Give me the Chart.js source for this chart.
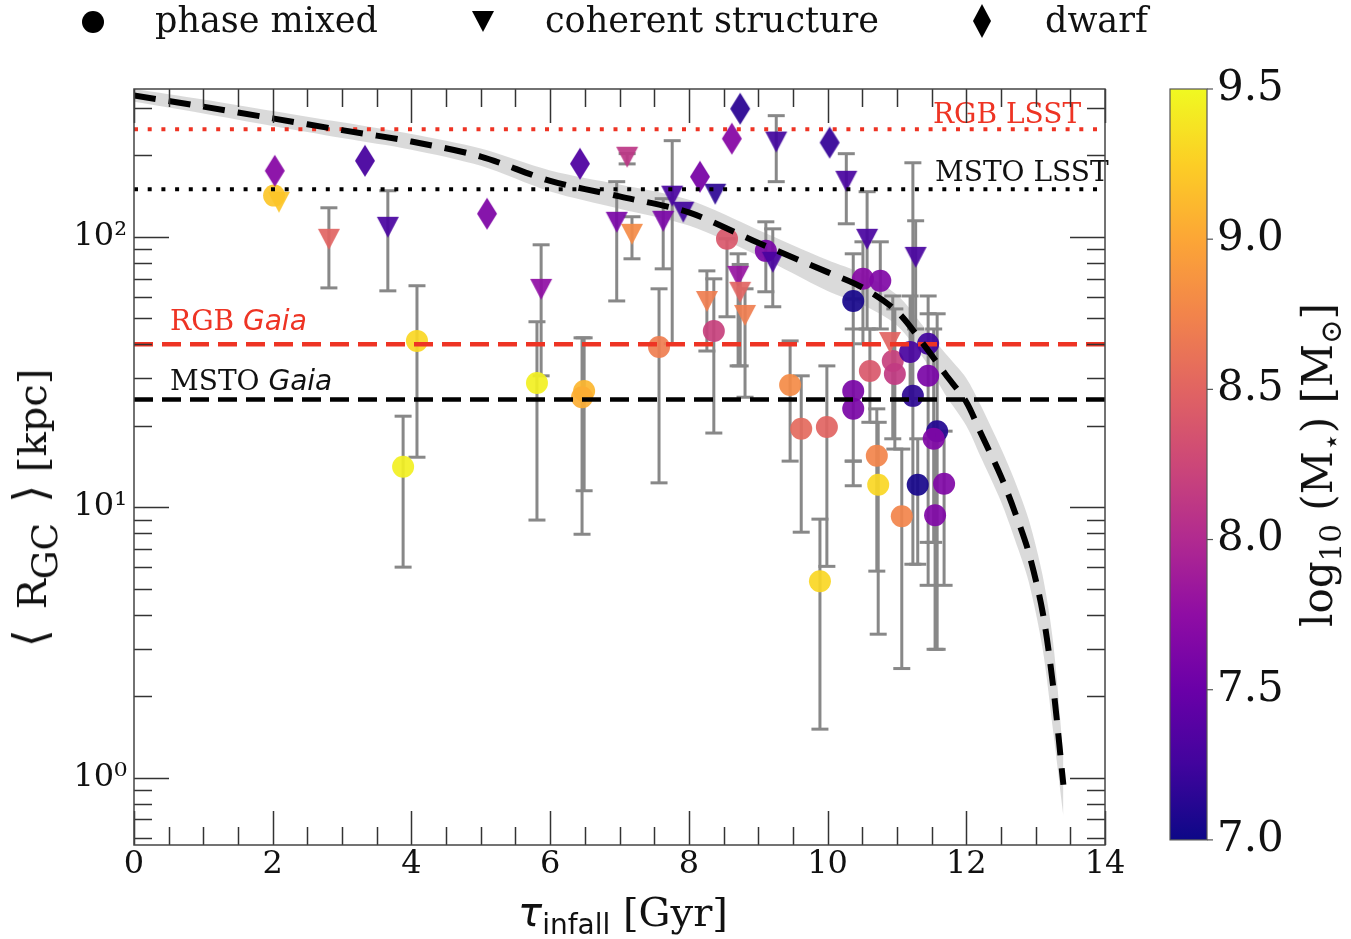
<!DOCTYPE html>
<html lang="en">
<head>
  <meta charset="UTF-8">
  <title>Infall time vs mean galactocentric distance</title>
  <script src="https://cdn.jsdelivr.net/npm/chart.js"></script>
  <style>
    html, body { margin: 0; padding: 0; background: #fff; }
    #wrap { position: relative; width: 1351px; height: 939px; overflow: hidden; }
    #chart { position: absolute; left: 0; top: 0; }
    .t { position: absolute; white-space: nowrap; font-family: "DejaVu Serif", serif; color: #111; line-height: 1; }
    .t sub { font-size: 0.7em; vertical-align: -0.3em; line-height: 0; }
    .sans { font-family: "DejaVu Sans", sans-serif; }
    .mk { position: absolute; }
  </style>
</head>
<body>
<div id="wrap">
  <canvas id="chart" width="1351" height="939"></canvas>

  <!-- legend -->
  <svg class="mk" style="left:82px;top:11px" width="22" height="22"><circle cx="11" cy="11" r="11" fill="#000"/></svg>
  <div class="t" style="left:155px;top:3px;font-size:35px">phase mixed</div>
  <svg class="mk" style="left:472px;top:10px" width="22" height="22"><polygon points="0,1 22,1 11,22" fill="#000"/></svg>
  <div class="t" style="left:545px;top:3px;font-size:35px">coherent structure</div>
  <svg class="mk" style="left:973px;top:4px" width="18" height="34"><polygon points="9,0 18,17 9,34 0,17" fill="#000"/></svg>
  <div class="t" style="left:1045px;top:3px;font-size:35px">dwarf</div>

  <!-- axis titles -->
  <div class="t" style="left:623px;top:892px;font-size:40px;transform:translateX(-50%)"><span class="sans" style="font-style:italic">τ</span><sub class="sans">infall</sub> [Gyr]</div>
  <div class="t" style="left:30px;top:508px;font-size:40px;transform:translate(-50%,-50%) rotate(-90deg)"><span style="font-size:1.15em">⟨</span>&ensp;R<sub style="font-size:0.9em">GC</sub>&ensp;<span style="font-size:1.15em">⟩</span> [kpc]</div>
  <div class="t" style="left:1318px;top:465px;font-size:42px;transform:translate(-50%,-50%) rotate(-90deg)">log<sub>10</sub> (M<sub>⋆</sub>) [M<sub>⊙</sub>]</div>
</div>

<script>
  // phase mixed (circles)
  const pmX    = [2.02, 4.08, 3.88, 5.81, 6.49, 6.46, 7.57, 8.36, 8.55, 9.11, 9.46, 9.62, 9.99, 9.89, 10.37, 10.51, 10.76, 10.61, 10.94, 10.97, 11.19, 11.45, 11.45, 10.37, 10.37, 11.23, 11.58, 11.53, 10.71, 10.73, 11.30, 11.68, 11.07, 11.55];
  const pmY    = [142, 41.2, 14.1, 28.8, 26.9, 25.5, 39.1, 44.8, 98.3, 88.7, 28.3, 19.5, 19.8, 5.32, 57.9, 69.9, 68.7, 31.9, 34.7, 31.1, 37.5, 40.2, 30.6, 26.9, 23.1, 25.8, 19.1, 17.9, 15.5, 12.1, 12.1, 12.2, 9.26, 9.34];
  const pmMass = [9.2, 9.3, 9.45, 9.45, 9.1, 9.05, 8.7, 8.2, 8.4, 7.6, 8.8, 8.55, 8.5, 9.3, 7.05, 7.7, 7.65, 8.4, 8.2, 8.15, 7.3, 7.25, 7.6, 7.6, 7.6, 7.15, 7.1, 7.65, 8.75, 9.3, 7.05, 7.65, 8.75, 7.65];
  const pmLo   = [null, 15.3, 6.0, 8.96, 11.5, 7.94, 12.3, 18.8, 50.6, 62.6, 14.8, 8.08, 6.04, 1.51, 14.8, 40.2, 45.6, 20.6, 17.9, 16.4, 25.2, 7.41, 5.14, 12.0, 14.8, 6.15, 2.98, 7.41, 5.8, 3.39, 6.15, 5.14, 2.53, 2.98];
  const pmHi   = [null, 65.9, 21.7, 48.5, 42.3, 42.3, 64.2, 69.9, 98.3, 113.6, 41.2, 30.6, 33.3, 9.03, 86.5, 95.8, 95.8, 45.6, 60.4, 54.1, 60.4, 60.4, 51.9, 58.9, 45.6, 187.8, 51.9, 45.6, 23.1, 20.6, 17.9, 19.1, 16.4, 17.9];

  // coherent structure (down triangles)
  const csX    = [2.09, 2.81, 3.66, 5.87, 6.96, 7.18, 7.11, 7.63, 7.76, 7.92, 8.38, 9.26, 10.27, 10.57, 11.27, 9.21, 8.71, 8.74, 8.81, 8.26, 10.90];
  const csY    = [134.8, 98.3, 108.9, 64.2, 113.6, 102.6, 197.7, 114.6, 141.9, 123.8, 144.3, 225, 161.1, 98.3, 84.3, 80.8, 71.7, 62.6, 51.4, 57.9, 40.8];
  const csMass = [9.2, 8.5, 7.3, 7.75, 7.6, 8.8, 8.1, 7.6, 7.3, 7.25, 7.15, 7.25, 7.3, 7.3, 7.3, 7.3, 7.8, 8.5, 8.7, 8.7, 8.5];
  const csLo   = [null, 64.7, 63.1, 30.6, 57.9, 82.9, 186, 76.1, 40.2, null, null, 159.9, 111.7, 45.6, 45.6, 55.1, 33.3, 33.3, 25.5, 37.8, null];
  const csHi   = [null, 128, 148, 93.4, 159.9, 118.6, 203, 138.3, 226.7, null, null, 280.5, 202.9, 146.8, 114.6, 107, 86.5, 79, 64.2, 74.8, null];

  // dwarfs (diamonds)
  const dwX    = [2.03, 3.33, 5.09, 6.43, 8.16, 8.62, 8.74, 10.03];
  const dwY    = [175.4, 191, 121.7, 186.3, 166.8, 230.6, 297.6, 223];
  const dwMass = [7.7, 7.3, 7.65, 7.35, 7.6, 7.7, 7.15, 7.2];

  // dashed model curve and its grey band
  const curveX = [0, 1, 2, 3, 4, 5, 6, 7, 8, 9, 10, 10.5, 11, 11.4, 11.7, 12, 12.2, 12.5, 12.7, 12.9, 13.1, 13.25, 13.4];
  const curveY = [333, 303, 274, 248, 225, 198, 161, 141, 123, 95, 74, 65, 53, 39.5, 31, 24.5, 19, 13, 9.6, 6.8, 4.1, 2.2, 0.94];
  const bandHi = [352, 322, 292, 265, 240, 212, 176, 156, 137, 106, 82, 73, 61, 46, 37, 30, 24, 16.5, 12.5, 9, 5.6, 3.2, 1.2];
  const bandLo = [316, 286, 257, 232, 210, 183, 147, 127, 110, 85, 63, 56, 47, 35, 26, 20, 15.5, 10.5, 7.6, 5.3, 3.0, 1.5, 0.72];

  // survey limits
  const limitNames  = ['RGB LSST', 'MSTO LSST', 'RGB Gaia', 'MSTO Gaia'];
  const limitValues = [250, 150, 40, 25];

  const yTickValues  = [1, 10, 100];
  const yTickLabels  = ['10⁰', '10¹', '10²'];
  const cbTickValues = [7.0, 7.5, 8.0, 8.5, 9.0, 9.5];

  const RED = 'rgb(238,52,36)';
  const plasmaStops = ['#0d0887', '#41049d', '#6a00a8', '#8f0da4', '#b12a90', '#cc4778', '#e16462', '#f2844b', '#fca636', '#fcce25', '#f0f921'];

  function hexToRgb(h) {
    return [parseInt(h.slice(1, 3), 16), parseInt(h.slice(3, 5), 16), parseInt(h.slice(5, 7), 16)];
  }
  function plasma(m, alpha) {
    const t = Math.min(1, Math.max(0, (m - 7) / 2.5)) * 10;
    const i = Math.min(9, Math.floor(t));
    const f = t - i;
    const a = hexToRgb(plasmaStops[i]), b = hexToRgb(plasmaStops[i + 1]);
    const c = a.map((v, k) => Math.round(v + (b[k] - v) * f));
    return `rgba(${c[0]},${c[1]},${c[2]},${alpha})`;
  }

  // marker images for triangles / diamonds
  const markerCache = {};
  function markerCanvas(shape, color) {
    const key = shape + color;
    if (markerCache[key]) return markerCache[key];
    const c = document.createElement('canvas');
    if (shape === 'tri') { c.width = 24; c.height = 24; } else { c.width = 22; c.height = 34; }
    const g = c.getContext('2d');
    g.beginPath();
    if (shape === 'tri') {
      g.moveTo(1, 2); g.lineTo(23, 2); g.lineTo(12, 23);
    } else {
      g.moveTo(11, 1); g.lineTo(21, 17); g.lineTo(11, 33); g.lineTo(1, 17);
    }
    g.closePath();
    g.fillStyle = color;
    g.fill();
    markerCache[key] = c;
    return c;
  }

  function pts(xs, ys) {
    return xs.map((x, i) => ({ x: x, y: ys[i] }));
  }
  // error bars: lo -> hi segments separated by gaps
  function errData(xs, los, his) {
    const out = [];
    xs.forEach((x, i) => {
      if (los[i] == null) return;
      out.push({ x: x, y: los[i] }, { x: x, y: his[i] }, { x: x, y: null });
    });
    return out;
  }

  const errStyle = {
    type: 'line', showLine: true, spanGaps: false, borderColor: '#888', borderWidth: 3,
    pointStyle: 'line', pointRadius: 8.5, pointBorderColor: '#888', pointBorderWidth: 3, order: 8
  };
  const hline = (v, color, dash, width) => ({
    type: 'line', data: [{ x: 0, y: v }, { x: 14, y: v }], borderColor: color, borderWidth: width,
    borderDash: dash, pointRadius: 0, order: 2
  });

  const datasets = [
    { type: 'line', data: pts(curveX, bandHi), borderWidth: 0, pointRadius: 0, tension: 0.3,
      backgroundColor: 'rgba(205,205,205,0.75)', fill: '+1', order: 10 },
    { type: 'line', data: pts(curveX, bandLo), borderWidth: 0, pointRadius: 0, tension: 0.3, fill: false, order: 10 },
    Object.assign({ data: errData(pmX, pmLo, pmHi) }, errStyle),
    Object.assign({ data: errData(csX, csLo, csHi) }, errStyle),
    { type: 'scatter', data: pts(pmX, pmY), pointStyle: 'circle', pointRadius: 11, borderWidth: 0,
      backgroundColor: c => plasma(pmMass[c.dataIndex], 0.92), order: 5 },
    { type: 'scatter', data: pts(csX, csY), pointRadius: 11, borderWidth: 0,
      pointStyle: c => markerCanvas('tri', plasma(csMass[c.dataIndex], 0.92)), order: 4 },
    { type: 'scatter', data: pts(dwX, dwY), pointRadius: 11, borderWidth: 0,
      pointStyle: c => markerCanvas('dia', plasma(dwMass[c.dataIndex], 0.95)), order: 3 },
    hline(limitValues[0], RED, [4, 9.7], 4),
    hline(limitValues[1], '#000', [4, 9.7], 4),
    hline(limitValues[2], RED, [19, 9], 4.5),
    hline(limitValues[3], '#000', [19, 9], 4.5),
    { type: 'line', data: pts(curveX, curveY), borderColor: '#000', borderWidth: 6, borderDash: [22, 13],
      pointRadius: 0, tension: 0.3, fill: false, order: 1 }
  ];

  // inward ticks on all four sides + frame + colour bar
  const frameTicks = {
    id: 'frameTicks',
    afterDraw(chart) {
      const { ctx, chartArea: a, scales } = chart;
      const x = scales.x, y = scales.y;
      ctx.save();
      ctx.strokeStyle = '#333';
      ctx.lineWidth = 1.5;
      const seg = (x1, y1, x2, y2) => { ctx.beginPath(); ctx.moveTo(x1, y1); ctx.lineTo(x2, y2); ctx.stroke(); };
      for (let v = 0; v <= 14.001; v += 0.5) {
        const px = Math.round(x.getPixelForValue(v)) + 0.5;
        const len = Math.abs(v % 2) < 1e-6 ? 34 : 18;
        seg(px, a.top, px, a.top + len);
        seg(px, a.bottom, px, a.bottom - len);
      }
      for (let d = -1; d <= 2; d++) {
        for (let k = 1; k <= 9; k++) {
          const v = k * Math.pow(10, d);
          if (v < y.min || v > y.max) continue;
          const py = Math.round(y.getPixelForValue(v)) + 0.5;
          const len = k === 1 ? 35 : 18;
          seg(a.left, py, a.left + len, py);
          seg(a.right, py, a.right - len, py);
        }
      }
      ctx.strokeStyle = '#444';
      ctx.strokeRect(a.left, a.top, a.right - a.left, a.bottom - a.top);

      const cb = scales.cb;
      const top = cb.getPixelForValue(9.5), bot = cb.getPixelForValue(7.0);
      const bx = cb.left + 65, bw = 37;
      const grad = ctx.createLinearGradient(0, top, 0, bot);
      plasmaStops.forEach((s, i) => grad.addColorStop(1 - i / 10, s));
      ctx.fillStyle = grad;
      ctx.fillRect(bx, top, bw, bot - top);
      ctx.strokeStyle = '#555';
      ctx.lineWidth = 1.2;
      ctx.strokeRect(bx, top, bw, bot - top);
      cbTickValues.forEach(v => {
        const py = cb.getPixelForValue(v);
        seg(bx + bw, py, bx + bw + 6, py);
      });
      ctx.restore();
    }
  };

  // survey limit annotations
  const limitText = {
    id: 'limitText',
    afterDatasetsDraw(chart) {
      const { ctx, scales: { x, y } } = chart;
      ctx.save();
      ctx.textBaseline = 'alphabetic';
      ctx.textAlign = 'left';
      ctx.font = '28px "DejaVu Serif"';
      ctx.fillStyle = RED;
      ctx.fillText(limitNames[0], x.getPixelForValue(11.52), y.getPixelForValue(limitValues[0]) - 6);
      ctx.fillStyle = '#111';
      ctx.fillText(limitNames[1], x.getPixelForValue(11.55), y.getPixelForValue(limitValues[1]) - 8);
      const gaia = (label, color, v, dy) => {
        const [first, rest] = label.split(' ');
        const px = x.getPixelForValue(0.52), py = y.getPixelForValue(v) - dy;
        ctx.fillStyle = color;
        ctx.font = '28px "DejaVu Serif"';
        ctx.fillText(first + ' ', px, py);
        const w = ctx.measureText(first + ' ').width;
        ctx.font = 'italic 28px "DejaVu Sans"';
        ctx.fillText(rest, px + w, py);
      };
      gaia(limitNames[2], RED, limitValues[2], 14);
      gaia(limitNames[3], '#111', limitValues[3], 10);
      ctx.restore();
    }
  };

  Chart.defaults.font.family = '"DejaVu Serif", serif';
  Chart.defaults.color = '#111';

  new Chart(document.getElementById('chart'), {
    type: 'scatter',
    data: { datasets: datasets },
    options: {
      responsive: false,
      animation: false,
      events: [],
      layout: { padding: { top: 89, left: 0, right: 0, bottom: 0 } },
      plugins: { legend: { display: false }, tooltip: { enabled: false } },
      scales: {
        x: {
          type: 'linear', position: 'bottom', min: 0, max: 14,
          grid: { display: false, drawTicks: false }, border: { display: false },
          ticks: { stepSize: 2, font: { size: 32 }, padding: 0, color: '#111' },
          afterFit: s => { s.height = 94; }
        },
        y: {
          type: 'logarithmic', position: 'left', min: 0.563, max: 352,
          grid: { display: false, drawTicks: false }, border: { display: false },
          afterBuildTicks: s => { s.ticks = yTickValues.map(v => ({ value: v })); },
          ticks: { font: { size: 32 }, padding: 7, color: '#111', autoSkip: false,
            callback: v => yTickLabels[yTickValues.indexOf(v)] },
          afterFit: s => { s.width = 134; }
        },
        cb: {
          type: 'linear', position: 'right', min: 6.983, max: 9.5,
          grid: { display: false, drawTicks: true, tickLength: 112 }, border: { display: false },
          afterBuildTicks: s => { s.ticks = cbTickValues.map(v => ({ value: v })); },
          ticks: { font: { size: 42 }, padding: 0, color: '#111', autoSkip: false,
            callback: v => Number(v).toFixed(1) },
          afterFit: s => { s.width = 246; }
        }
      }
    },
    plugins: [frameTicks, limitText]
  });
</script>
</body>
</html>
